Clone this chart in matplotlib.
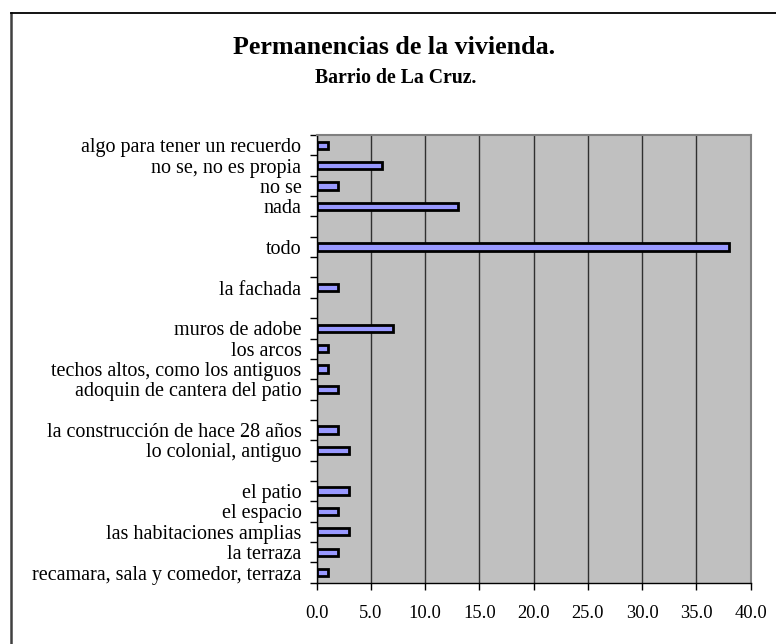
import matplotlib
matplotlib.use("Agg")
import matplotlib.pyplot as plt
import numpy as np
from matplotlib.lines import Line2D

# Categories from top to bottom; empty strings are blank slots on the axis
categories = [
    "algo para tener un recuerdo",
    "no se, no es propia",
    "no se",
    "nada",
    "",
    "todo",
    "",
    "la fachada",
    "",
    "muros de adobe",
    "los arcos",
    "techos altos, como los antiguos",
    "adoquin de cantera del patio",
    "",
    "la construcción de hace 28 años",
    "lo colonial, antiguo",
    "",
    "el patio",
    "el espacio",
    "las habitaciones amplias",
    "la terraza",
    "recamara, sala y comedor, terraza",
]
values = [1, 6, 2, 13, None, 38, None, 2, None, 7, 1, 1, 2, None, 2, 3, None, 3, 2, 3, 2, 1]
x_ticks = [0, 5, 10, 15, 20, 25, 30, 35, 40]
x_tick_labels = ["0.0", "5.0", "10.0", "15.0", "20.0", "25.0", "30.0", "35.0", "40.0"]

title = "Permanencias de la vivienda."
subtitle = "Barrio de La Cruz."

plt.rcParams["font.family"] = ["Liberation Serif", "DejaVu Serif"]

W, H = 776, 644
fig = plt.figure(figsize=(W / 100, H / 100), dpi=100)
fig.patch.set_facecolor("white")

# Chart frame (left and top edges visible)
fig.add_artist(Line2D([11 / W, 11 / W], [0, 1 - 12.7 / H], transform=fig.transFigure,
                      color="#404040", lw=1.8))
fig.add_artist(Line2D([11 / W, 1], [1 - 12.7 / H, 1 - 12.7 / H], transform=fig.transFigure,
                      color="black", lw=1.3))

left, right, top, bottom = 316.7, 750.7, 135.0, 582.7
ax = fig.add_axes([left / W, 1 - bottom / H, (right - left) / W, (bottom - top) / H])
ax.set_facecolor("#C0C0C0")

n = len(categories)
pos = np.arange(n)
for p, v in zip(pos, values):
    if v is None:
        continue
    ax.barh(p, v, height=0.36, color="#9999FF", edgecolor="black", linewidth=2.0, zorder=3)

ax.set_ylim(n - 0.5, -0.5)
ax.set_xlim(0, 40)

# Vertical gridlines
ax.set_xticks(x_ticks)
ax.set_xticklabels(x_tick_labels, fontsize=13.3)
ax.xaxis.grid(True, color="#303030", lw=1.0, zorder=1)
ax.set_axisbelow(True)

# Category labels at slot centres, tick marks at slot boundaries
ax.set_yticks(pos)
ax.set_yticklabels(categories, fontsize=14.5)
ax.tick_params(axis="y", which="major", length=0, pad=11)
ax.set_yticks(np.arange(n + 1) - 0.5, minor=True)
ax.tick_params(axis="y", which="minor", length=5, width=1.0, color="black", direction="out")
ax.tick_params(axis="x", which="major", length=5, width=1.0, color="black", direction="out", pad=11)

for side in ("top", "right"):
    ax.spines[side].set_color("#808080")
    ax.spines[side].set_linewidth(1.5)
for side in ("left", "bottom"):
    ax.spines[side].set_color("black")
    ax.spines[side].set_linewidth(1.0)

fig.text(394 / W, 1 - 54 / H, title, ha="center", va="baseline", fontsize=18.7, fontweight="bold")
fig.text(396 / W, 1 - 83 / H, subtitle, ha="center", va="baseline", fontsize=14.2, fontweight="bold")

fig.savefig("out.png", dpi=100)
